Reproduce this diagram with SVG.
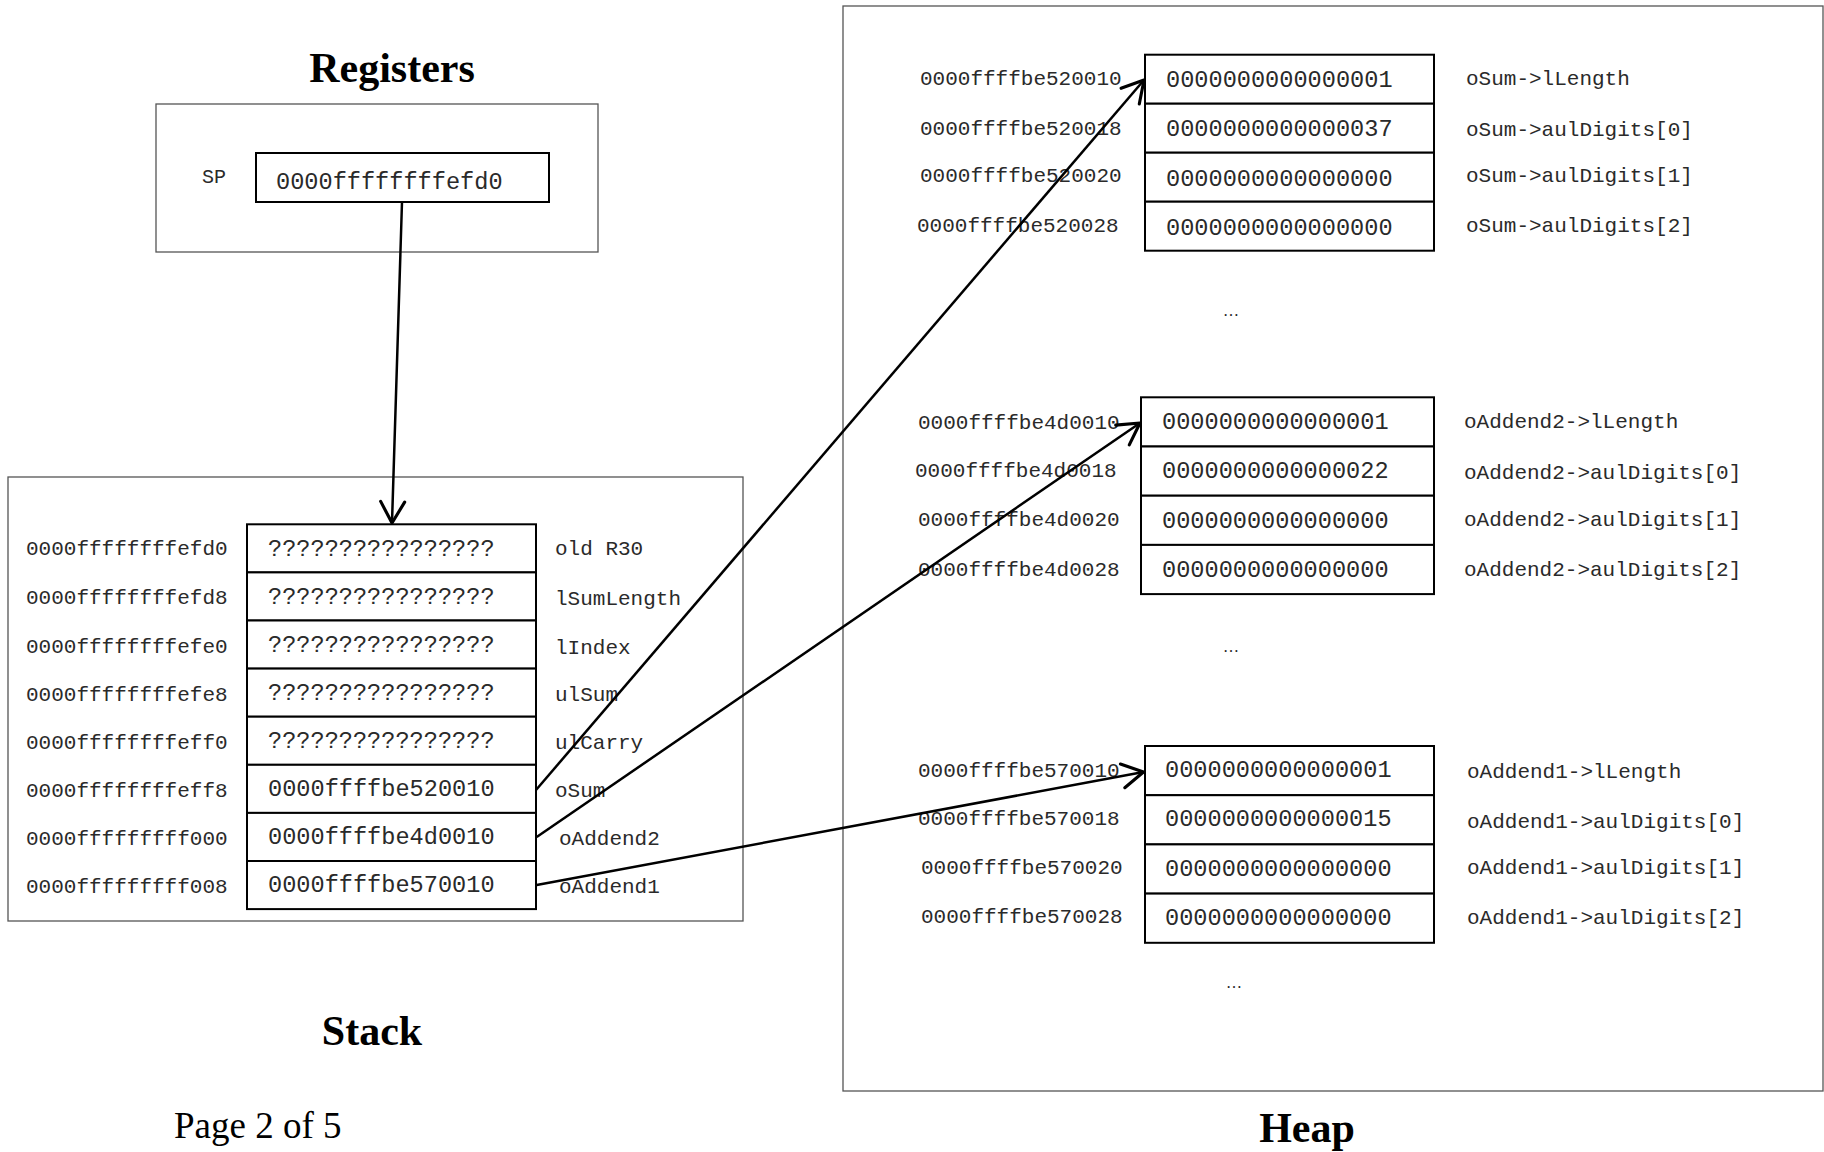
<svg xmlns="http://www.w3.org/2000/svg" width="1824" height="1152" viewBox="0 0 1824 1152">
<style>
.title{font-family:"Liberation Serif","Times New Roman",serif;font-weight:bold;font-size:42px;fill:#000;text-anchor:middle}
.page{font-family:"Liberation Serif","Times New Roman",serif;font-size:37px;fill:#000}
.mono{font-family:"Liberation Mono","Courier New",monospace;fill:#2a2a2a}
.addr{font-size:21px}
.val{font-size:23.6px}
.lbl{font-size:21px}
.sp{font-size:20px}
.ell{font-family:"Liberation Serif",serif;font-size:16px;fill:#222;text-anchor:middle}
.cont{fill:none;stroke:#555;stroke-width:1.3}
.cell{fill:#fff;stroke:#000;stroke-width:2}
.conn{fill:none;stroke:#000;stroke-width:2.5}
</style>
<defs>
<marker id="arr" markerUnits="userSpaceOnUse" markerWidth="30" markerHeight="30" viewBox="-20 -12 22 24" refX="0" refY="0" orient="auto">
<path d="M-17,-9.6 L0,0 L-17,9.6" fill="none" stroke="#000" stroke-width="2.5" stroke-linecap="round" stroke-linejoin="round"/>
</marker>
</defs>
<rect width="1824" height="1152" fill="#fff"/>

<g id="registers">
<text class="title" x="392" y="82">Registers</text>
<rect class="cont" x="156" y="104" width="442" height="148"/>
<text class="mono sp" x="202" y="183">SP</text>
<rect class="cell" x="256" y="153" width="293" height="49"/>
<text class="mono val" x="276" y="189">0000ffffffffefd0</text>
</g>

<g id="stack">
<rect class="cont" x="8" y="477" width="735" height="444"/>
<text class="title" x="372" y="1045">Stack</text>
<g id="stack-cells">
<rect class="cell" x="247" y="524.3" width="289" height="48.1"/>
<rect class="cell" x="247" y="572.4" width="289" height="48.1"/>
<rect class="cell" x="247" y="620.5" width="289" height="48.1"/>
<rect class="cell" x="247" y="668.6" width="289" height="48.1"/>
<rect class="cell" x="247" y="716.7" width="289" height="48.1"/>
<rect class="cell" x="247" y="764.8" width="289" height="48.1"/>
<rect class="cell" x="247" y="812.9" width="289" height="48.1"/>
<rect class="cell" x="247" y="861" width="289" height="48.1"/>
</g>
<g class="mono addr">
<text x="26" y="555">0000ffffffffefd0</text>
<text x="26" y="604">0000ffffffffefd8</text>
<text x="26" y="653">0000ffffffffefe0</text>
<text x="26" y="701">0000ffffffffefe8</text>
<text x="26" y="749">0000ffffffffeff0</text>
<text x="26" y="797">0000ffffffffeff8</text>
<text x="26" y="845">0000fffffffff000</text>
<text x="26" y="893">0000fffffffff008</text>
</g>
<g class="mono val">
<text x="268" y="556">????????????????</text>
<text x="268" y="604">????????????????</text>
<text x="268" y="652">????????????????</text>
<text x="268" y="700">????????????????</text>
<text x="268" y="748">????????????????</text>
<text x="268" y="796">0000ffffbe520010</text>
<text x="268" y="844">0000ffffbe4d0010</text>
<text x="268" y="892">0000ffffbe570010</text>
</g>
<g class="mono lbl">
<text x="555" y="555">old R30</text>
<text x="555" y="605">lSumLength</text>
<text x="555" y="654">lIndex</text>
<text x="555" y="701">ulSum</text>
<text x="555" y="749">ulCarry</text>
<text x="555" y="797">oSum</text>
<text x="559" y="845">oAddend2</text>
<text x="559" y="893">oAddend1</text>
</g>
</g>

<g id="heap">
<rect class="cont" x="843" y="6" width="980" height="1085"/>
<text class="title" x="1307" y="1142">Heap</text>
<text class="page" x="174" y="1138">Page 2 of 5</text>

<g id="heap-osum">
<rect class="cell" x="1145" y="54.7" width="289" height="49"/>
<rect class="cell" x="1145" y="103.7" width="289" height="49"/>
<rect class="cell" x="1145" y="152.7" width="289" height="49"/>
<rect class="cell" x="1145" y="201.7" width="289" height="49"/>
<g class="mono addr">
<text x="920" y="85">0000ffffbe520010</text>
<text x="920" y="135">0000ffffbe520018</text>
<text x="920" y="182">0000ffffbe520020</text>
<text x="917" y="232">0000ffffbe520028</text>
</g>
<g class="mono val">
<text x="1166" y="87">0000000000000001</text>
<text x="1166" y="136">0000000000000037</text>
<text x="1166" y="186">0000000000000000</text>
<text x="1166" y="235">0000000000000000</text>
</g>
<g class="mono lbl">
<text x="1466" y="85">oSum-&gt;lLength</text>
<text x="1466" y="136">oSum-&gt;aulDigits[0]</text>
<text x="1466" y="182">oSum-&gt;aulDigits[1]</text>
<text x="1466" y="232">oSum-&gt;aulDigits[2]</text>
</g>
<text class="ell" x="1231" y="316">…</text>
</g>

<g id="heap-oaddend2">
<rect class="cell" x="1141" y="397.3" width="293" height="49.2"/>
<rect class="cell" x="1141" y="446.5" width="293" height="49.2"/>
<rect class="cell" x="1141" y="495.7" width="293" height="49.2"/>
<rect class="cell" x="1141" y="544.9" width="293" height="49.2"/>
<g class="mono addr">
<text x="918" y="429">0000ffffbe4d0010</text>
<text x="915" y="477">0000ffffbe4d0018</text>
<text x="918" y="526">0000ffffbe4d0020</text>
<text x="918" y="576">0000ffffbe4d0028</text>
</g>
<g class="mono val">
<text x="1162" y="429">0000000000000001</text>
<text x="1162" y="478">0000000000000022</text>
<text x="1162" y="528">0000000000000000</text>
<text x="1162" y="577">0000000000000000</text>
</g>
<g class="mono lbl">
<text x="1464" y="428">oAddend2-&gt;lLength</text>
<text x="1464" y="479">oAddend2-&gt;aulDigits[0]</text>
<text x="1464" y="526">oAddend2-&gt;aulDigits[1]</text>
<text x="1464" y="576">oAddend2-&gt;aulDigits[2]</text>
</g>
<text class="ell" x="1231" y="652">…</text>
</g>

<g id="heap-oaddend1">
<rect class="cell" x="1145" y="746" width="289" height="49.2"/>
<rect class="cell" x="1145" y="795.2" width="289" height="49.2"/>
<rect class="cell" x="1145" y="844.4" width="289" height="49.2"/>
<rect class="cell" x="1145" y="893.6" width="289" height="49.2"/>
<g class="mono addr">
<text x="918" y="777">0000ffffbe570010</text>
<text x="918" y="825">0000ffffbe570018</text>
<text x="921" y="874">0000ffffbe570020</text>
<text x="921" y="923">0000ffffbe570028</text>
</g>
<g class="mono val">
<text x="1165" y="777">0000000000000001</text>
<text x="1165" y="826">0000000000000015</text>
<text x="1165" y="876">0000000000000000</text>
<text x="1165" y="925">0000000000000000</text>
</g>
<g class="mono lbl">
<text x="1467" y="778">oAddend1-&gt;lLength</text>
<text x="1467" y="828">oAddend1-&gt;aulDigits[0]</text>
<text x="1467" y="874">oAddend1-&gt;aulDigits[1]</text>
<text x="1467" y="924">oAddend1-&gt;aulDigits[2]</text>
</g>
<text class="ell" x="1234" y="988">…</text>
</g>
</g>

<g id="connectors">
<line class="conn" x1="402" y1="202" x2="392" y2="523" marker-end="url(#arr)"/>
<line class="conn" x1="536" y1="790" x2="1144" y2="80" marker-end="url(#arr)"/>
<line class="conn" x1="536.7" y1="837" x2="1140" y2="423" marker-end="url(#arr)"/>
<line class="conn" x1="536.7" y1="885" x2="1143.5" y2="772" marker-end="url(#arr)"/>
</g>
</svg>
